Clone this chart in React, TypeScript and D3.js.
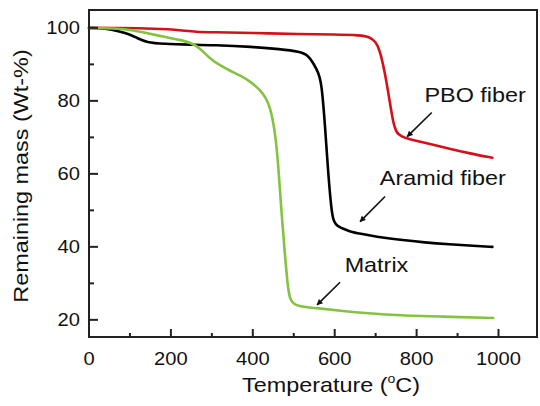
import React from "react";
import * as d3 from "d3";

// Temperature (°C) and remaining mass (Wt-%)
const pboT = [0, 60, 120, 180, 210, 235, 260, 300, 400, 515, 600, 662, 686, 700, 710, 723, 735, 743, 750, 756, 765, 776, 800, 833, 880, 930, 985];
const pboM = [100, 100, 99.9, 99.7, 99.5, 99.2, 98.9, 98.8, 98.6, 98.3, 98.2, 98.0, 97.5, 96.2, 94.0, 87.6, 79.4, 73.9, 71.6, 70.8, 70.2, 69.7, 69.0, 68.2, 66.9, 65.6, 64.4];

const aramidT = [0, 40, 76, 100, 116, 141, 181, 250, 303, 400, 466, 515, 535, 548, 560, 568, 576, 584, 592, 597, 602, 610, 620, 637, 662, 700, 760, 820, 880, 940, 985];
const aramidM = [100, 99.9, 99.0, 98.2, 97.3, 96.0, 95.6, 95.4, 95.3, 94.8, 94.2, 93.5, 92.5, 90.3, 87.8, 84.8, 73.9, 60.2, 50.0, 47.2, 46.3, 45.5, 45.0, 44.2, 43.6, 42.8, 41.9, 41.2, 40.7, 40.3, 40.0];

const matrixT = [0, 59, 100, 140, 181, 222, 250, 271, 295, 320, 345, 369, 395, 418, 432, 442, 454, 462, 470, 478, 486, 491, 497, 511, 559, 620, 680, 760, 860, 987];
const matrixM = [100, 99.9, 99.5, 98.6, 97.6, 96.7, 95.9, 94.4, 91.6, 89.7, 88.2, 87.0, 85.2, 83.0, 80.8, 78.4, 72.0, 63.0, 49.3, 38.3, 28.4, 25.8, 24.6, 23.6, 23.2, 22.4, 21.8, 21.2, 20.9, 20.5];

const xMajorTicks = [0, 200, 400, 600, 800, 1000];
const xMinorTicks = [100, 300, 500, 700, 900];
const yMajorTicks = [20, 40, 60, 80, 100];
const yMinorTicks = [30, 50, 70, 90];

const seriesNames = ["PBO fiber", "Aramid fiber", "Matrix"];
const seriesColors = ["#d4111b", "#000000", "#84c341"];
// label anchor (T, mass) and arrow (from T, mass) -> (to T, mass)
const labelT = [943, 864, 702];
const labelM = [79.7, 57.0, 33.2];
const arrowFromT = [837, 723, 613];
const arrowFromM = [76.8, 53.8, 30.3];
const arrowToT = [777, 662, 557];
const arrowToM = [70.2, 46.9, 24.1];

const W = 540;
const H = 406;
const FONT = "'Liberation Sans', Arial, Helvetica, sans-serif";

function Label({ x, y, sx, size, anchor, rotate, children }: any) {
  const tr = `translate(${x},${y})${rotate ? ` rotate(${rotate})` : ""} scale(${sx},1)`;
  return (
    <text transform={tr} fontSize={size} fontFamily={FONT} textAnchor={anchor} fill="#111">
      {children}
    </text>
  );
}

export default function App() {
  const x = d3.scaleLinear().domain([0, 1094]).range([89, 537]);
  const y = d3.scaleLinear().domain([15.3, 104.9]).range([337, 10]);

  const series = [
    pboT.map((t, i) => [t, pboM[i]]),
    aramidT.map((t, i) => [t, aramidM[i]]),
    matrixT.map((t, i) => [t, matrixM[i]]),
  ];
  const line = d3
    .line<number[]>()
    .x((d) => x(d[0]))
    .y((d) => y(d[1]))
    .curve(d3.curveBasis);

  const x0 = x.range()[0];
  const x1 = x.range()[1];
  const y0 = y.range()[0];
  const y1 = y.range()[1];

  return (
    <svg
      width={W}
      height={H}
      viewBox={`0 0 ${W} ${H}`}
      style={{ position: "absolute", left: 0, top: 0, background: "#fff" }}
    >
      <defs>
        <marker id="ah" viewBox="0 0 10 10" refX="9" refY="5" markerWidth="7" markerHeight="6" orient="auto" markerUnits="userSpaceOnUse">
          <path d="M0,0 L10,5 L0,10 z" fill="#111" />
        </marker>
      </defs>
      <rect width={W} height={H} fill="#fff" />

      {series.map((s, i) => (
        <path key={i} d={line(s as any) || ""} fill="none" stroke={seriesColors[i]} strokeWidth={2.6} strokeLinejoin="round" strokeLinecap="round" />
      ))}

      {/* frame */}
      <rect x={x0} y={y1} width={x1 - x0} height={y0 - y1} fill="none" stroke="#222" strokeWidth={2} />

      {/* x ticks */}
      {xMajorTicks.map((t) => (
        <g key={"xm" + t}>
          <line x1={x(t)} x2={x(t)} y1={y0} y2={y0 - 8} stroke="#222" strokeWidth={2} />
          <Label x={x(t)} y={y0 + 28} sx={1.12} size={18} anchor="middle">
            {t}
          </Label>
        </g>
      ))}
      {xMinorTicks.map((t) => (
        <line key={"xn" + t} x1={x(t)} x2={x(t)} y1={y0} y2={y0 - 4} stroke="#222" strokeWidth={2} />
      ))}

      {/* y ticks */}
      {yMajorTicks.map((v) => (
        <g key={"ym" + v}>
          <line x1={x0} x2={x0 + 9} y1={y(v)} y2={y(v)} stroke="#222" strokeWidth={2} />
          <Label x={x0 - 9} y={y(v) + 6.5} sx={1.12} size={18} anchor="end">
            {v}
          </Label>
        </g>
      ))}
      {yMinorTicks.map((v) => (
        <line key={"yn" + v} x1={x0} x2={x0 + 5} y1={y(v)} y2={y(v)} stroke="#222" strokeWidth={2} />
      ))}

      {/* axis titles */}
      <Label x={331} y={392} sx={1.17} size={20} anchor="middle">
        Temperature (
        <tspan fontSize={12} dy={-9}>o</tspan>
        <tspan dy={9}>C)</tspan>
      </Label>
      <Label x={28} y={176} sx={1.17} size={20} anchor="middle" rotate={-90}>
        Remaining mass (Wt-%)
      </Label>

      {/* annotations */}
      {seriesNames.map((n, i) => (
        <g key={n}>
          <Label x={x(labelT[i])} y={y(labelM[i])} sx={1.17} size={20} anchor="middle">
            {n}
          </Label>
          <line
            x1={x(arrowFromT[i])}
            y1={y(arrowFromM[i])}
            x2={x(arrowToT[i])}
            y2={y(arrowToM[i])}
            stroke="#111"
            strokeWidth={1.6}
            markerEnd="url(#ah)"
          />
        </g>
      ))}
    </svg>
  );
}
